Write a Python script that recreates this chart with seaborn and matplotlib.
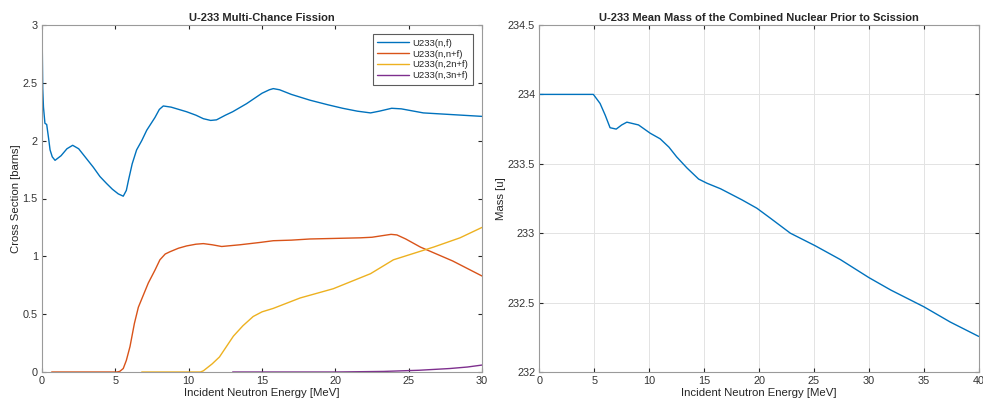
import numpy as np
import pandas as pd
import matplotlib
matplotlib.use("Agg")
import matplotlib.pyplot as plt
import seaborn as sns

# ---- Data: U-233 multi-chance fission cross sections (barns) ----
e_nf = [0.0, 0.05, 0.1, 0.2, 0.32, 0.45, 0.55, 0.7, 0.89, 1.3, 1.7, 2.09, 2.5, 3.0, 3.5,
        3.95, 4.4, 4.8, 5.2, 5.54, 5.75, 5.9, 6.15, 6.45, 6.8, 7.14, 7.7, 8.0, 8.27, 8.8,
        9.86, 10.5, 11.0, 11.5, 11.9, 12.5, 13.0, 13.95, 15.0, 15.5, 15.77, 16.2, 17.0,
        18.27, 19.5, 20.5, 21.5, 22.4, 23.0, 23.84, 24.5, 26.0, 28.0, 30.0]
xs_nf = [3.0, 2.45, 2.29, 2.15, 2.14, 2.02, 1.92, 1.86, 1.83, 1.87, 1.93, 1.96, 1.93, 1.85,
         1.77, 1.69, 1.63, 1.58, 1.54, 1.52, 1.57, 1.66, 1.8, 1.92, 2.0, 2.09, 2.2, 2.27,
         2.30, 2.29, 2.25, 2.22, 2.19, 2.175, 2.18, 2.22, 2.25, 2.32, 2.41, 2.44, 2.45,
         2.44, 2.4, 2.35, 2.31, 2.28, 2.255, 2.24, 2.255, 2.28, 2.275, 2.24, 2.225, 2.21]

e_nnf = [0.66, 2.0, 4.0, 5.1, 5.3, 5.54, 5.75, 6.0, 6.3, 6.57, 7.25, 7.7, 8.04, 8.4, 8.73,
         9.3, 9.86, 10.5, 11.0, 11.6, 12.25, 13.5, 14.86, 15.77, 17.0, 18.27, 21.7, 22.5,
         23.27, 23.8, 24.2, 24.8, 25.8, 28.0, 30.0]
xs_nnf = [0.0, 0.0, 0.0, 0.0, 0.005, 0.03, 0.1, 0.22, 0.42, 0.56, 0.77, 0.88, 0.97, 1.02,
          1.04, 1.07, 1.09, 1.105, 1.11, 1.1, 1.085, 1.1, 1.12, 1.135, 1.14, 1.15, 1.16,
          1.165, 1.18, 1.19, 1.185, 1.15, 1.08, 0.96, 0.83]

e_n2nf = [6.8, 8.0, 10.0, 10.8, 11.0, 11.2, 11.6, 12.1, 13.05, 13.7, 14.4, 15.0, 15.77,
          17.6, 19.86, 22.4, 23.96, 26.7, 28.5, 30.0]
xs_n2nf = [0.0, 0.0, 0.0, 0.0, 0.01, 0.03, 0.07, 0.13, 0.31, 0.4, 0.48, 0.52, 0.55, 0.64,
           0.72, 0.85, 0.97, 1.08, 1.16, 1.25]

e_n3nf = [13.0, 16.0, 20.0, 23.3, 25.7, 27.8, 29.0, 30.0]
xs_n3nf = [0.0, 0.0, 0.0, 0.005, 0.015, 0.03, 0.043, 0.06]

series_labels = ["U233(n,f)", "U233(n,n+f)", "U233(n,2n+f)", "U233(n,3n+f)"]

# ---- Data: mean mass of the combined nucleus prior to scission (u) ----
e_mass = [0.0, 2.0, 4.0, 4.92, 5.53, 6.0, 6.44, 7.0, 7.5, 7.97, 9.03, 10.1, 11.0, 11.8,
          12.5, 13.44, 14.5, 15.26, 16.5, 18.45, 19.8, 21.0, 22.85, 25.1, 27.4, 30.0,
          32.0, 35.0, 37.4, 40.0]
mass = [234.0, 234.0, 234.0, 234.0, 233.935, 233.85, 233.76, 233.75, 233.78, 233.80,
        233.78, 233.72, 233.68, 233.62, 233.55, 233.47, 233.39, 233.36, 233.32, 233.24,
        233.18, 233.11, 233.0, 232.91, 232.81, 232.68, 232.59, 232.47, 232.36, 232.256]

left_xticks = [0, 5, 10, 15, 20, 25, 30]
left_yticks = [0, 0.5, 1, 1.5, 2, 2.5, 3]
right_xticks = [0, 5, 10, 15, 20, 25, 30, 35, 40]
right_yticks = [232, 232.5, 233, 233.5, 234, 234.5]

colors = ["#0072BD", "#D95319", "#EDB120", "#7E2F8E"]

sns.set_theme(style="white")
plt.rcParams["font.family"] = ["Liberation Sans", "DejaVu Sans"]

fig = plt.figure(figsize=(9.83, 4.01), dpi=100)
ax1 = fig.add_axes([42 / 983, 1 - 372 / 401, 440 / 983, 347 / 401])
ax2 = fig.add_axes([539.3 / 983, 1 - 372 / 401, 439.5 / 983, 347 / 401])

spine_col = "#9a9a9a"
tick_col = "#262626"
fs_tick = 7.8

xs_list = [(e_nf, xs_nf), (e_nnf, xs_nnf), (e_n2nf, xs_n2nf), (e_n3nf, xs_n3nf)]
for (ex, yv), lab, c in zip(xs_list, series_labels, colors):
    df = pd.DataFrame({"E": ex, "xs": yv})
    sns.lineplot(data=df, x="E", y="xs", ax=ax1, color=c, lw=1.0, label=lab,
                 sort=False, estimator=None)

ax1.set_xlim(0, 30)
ax1.set_ylim(0, 3)
ax1.set_xticks(left_xticks)
ax1.set_yticks(left_yticks)
ax1.set_xticklabels([str(t) for t in left_xticks])
ax1.set_yticklabels(["0", "0.5", "1", "1.5", "2", "2.5", "3"])
ax1.set_title("U-233 Multi-Chance Fission", fontsize=8, fontweight="bold", pad=3)
ax1.set_xlabel("Incident Neutron Energy [MeV]", fontsize=8.2, labelpad=1)
ax1.set_ylabel("Cross Section [barns]", fontsize=8.2, labelpad=1)
leg = ax1.legend(loc="upper right", fontsize=6.8, frameon=True, fancybox=False,
                 edgecolor="#333333", handlelength=3.3, borderaxespad=1.0,
                 labelspacing=0.2, handletextpad=0.4, borderpad=0.45)
leg.get_frame().set_linewidth(0.8)

dfm = pd.DataFrame({"E": e_mass, "m": mass})
sns.lineplot(data=dfm, x="E", y="m", ax=ax2, color=colors[0], lw=1.0,
             sort=False, estimator=None)
ax2.set_xlim(0, 40)
ax2.set_ylim(232, 234.5)
ax2.set_xticks(right_xticks)
ax2.set_yticks(right_yticks)
ax2.set_xticklabels([str(t) for t in right_xticks])
ax2.set_yticklabels(["232", "232.5", "233", "233.5", "234", "234.5"])
ax2.grid(True, color="#e3e3e3", lw=0.7)
ax2.set_title("U-233 Mean Mass of the Combined Nuclear Prior to Scission", fontsize=8,
              fontweight="bold", pad=3)
ax2.set_xlabel("Incident Neutron Energy [MeV]", fontsize=8.2, labelpad=1)
ax2.set_ylabel("Mass [u]", fontsize=8.2, labelpad=1)

for ax in (ax1, ax2):
    for s in ax.spines.values():
        s.set_color(spine_col)
        s.set_linewidth(0.8)
    ax.tick_params(direction="in", length=3, width=0.8, color=tick_col,
                   labelsize=fs_tick, labelcolor="#333333", top=True, right=True,
                   bottom=True, left=True, pad=3)

fig.savefig("out.png", dpi=100)
